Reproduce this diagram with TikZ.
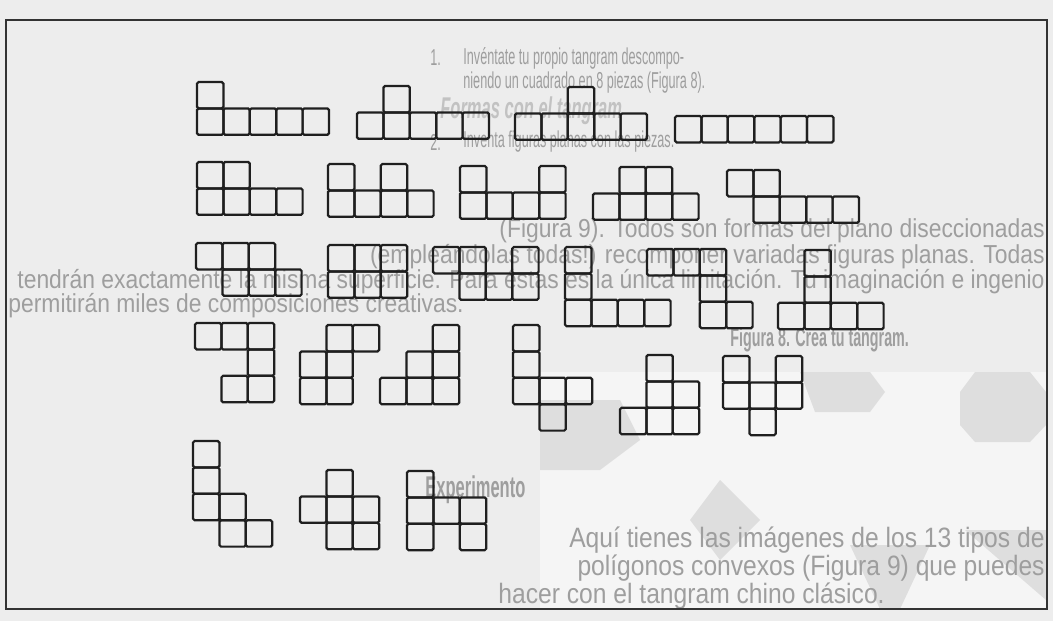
\documentclass[tikz,border=0pt]{standalone}
\usepackage{fontspec}
\newfontfamily\ghostfont[FakeStretch=0.88]{Liberation Sans}
\newfontfamily\narrowfont[FakeStretch=0.55]{Liberation Sans}
\usetikzlibrary{positioning}

% one cell of a hexomino, in pixels of the page
\def\cw{26.4}
\newcommand{\hexo}[3]{%
  \foreach \c/\r in {#3}{\draw[cell] ({#1+\c*\cw},{#2+\r*\cw}) rectangle ++(\cw,\cw);}}

\begin{document}
\begin{tikzpicture}[
    x=0.5pt, y=-0.5pt,
    cell/.style={draw=black!88, line width=1.1pt, rounded corners=0.8pt},
    ghost/.style={inner sep=0pt, text=black!38, font=\ghostfont\fontsize{13}{13}\selectfont},
    ghostcol/.style={ghost, font=\narrowfont\fontsize{11.5}{11.5}\selectfont},
    ghostbig/.style={ghost, font=\ghostfont\fontsize{14}{14}\selectfont},
    ghostbold/.style={ghost, font=\narrowfont\bfseries\fontsize{13}{13}\selectfont},
    blob/.style={fill=black!13, draw=none},
]
% page and frame
\fill[black!7] (0,0) rectangle (1053,621);
\useasboundingbox (0,0) rectangle (1053,621);

% faint page seen through the paper
\fill[black!4] (540,372) rectangle (1046,609);
\fill[blob] (800,372) -- (870,372) -- (885,392) -- (870,412) -- (815,412) -- cycle;
\fill[blob] (975,372) -- (1030,372) -- (1046,392) -- (1046,425) -- (1030,442) -- (975,442) -- (960,425) -- (960,392) -- cycle;
\fill[blob] (540,400) -- (620,400) -- (640,440) -- (600,470) -- (540,470) -- cycle;
\fill[blob] (850,545) -- (930,545) -- (900,609) -- (880,609) -- cycle;
\fill[blob] (965,530) -- (1046,530) -- (1046,600) -- cycle;
\fill[blob] (720,480) -- (760,520) -- (720,560) -- (690,520) -- cycle;

\node[ghostcol, anchor=west] (n1) at (430,58) {1.};
\node[ghostcol, anchor=west] (t1) at (463,58) {Invéntate tu propio tangram descompo-};
\node[ghostcol, anchor=west] (t2) at (463,83) {niendo un cuadrado en 8 piezas (Figura 8).};
\node[ghost, anchor=west, text=black!24, font=\narrowfont\bfseries\itshape\fontsize{15}{15}\selectfont] (tt) at (440,111) {Formas con el tangram};
\node[ghostcol, anchor=west] (n2) at (430,142) {2.};
\node[ghostcol, anchor=west] (t3) at (463,142) {Inventa figuras planas con las piezas.};
\node[ghost, anchor=east] (t4) at (1045,231) {(Figura 9). Todos son formas del plano diseccionadas};
\node[ghost, anchor=east] (t5) at (1045,257) {(empleándolas todas!) recomponer variadas figuras planas. Todas};
\node[ghost, anchor=east] (t6) at (1045,282) {tendrán exactamente la misma superficie. Para éstas es la única limitación. Tu imaginación e ingenio};
\node[ghost, anchor=west] (t7) at (8,306) {permitirán miles de composiciones creativas.};
\node[ghostbold, anchor=west] (f8) at (730,340) {Figura 8. Crea tu tangram.};
\node[ghostbold, anchor=west, font=\narrowfont\bfseries\fontsize{15}{15}\selectfont] (ex) at (425,490) {Experimento};
\node[ghostbig, anchor=east] (t8) at (1045,540) {Aquí tienes las imágenes de los 13 tipos de};
\node[ghostbig, anchor=east] (t9) at (1045,568) {polígonos convexos (Figura 9) que puedes};
\node[ghostbig, anchor=west] (t10) at (498,596) {hacer con el tangram chino clásico.};

\draw[black!80, line width=1pt] (6,20) rectangle (1047,609);

% first row
\hexo{197}{82}{0/0,0/1,1/1,2/1,3/1,4/1}
\hexo{357}{86}{1/0,0/1,1/1,2/1,3/1,4/1}
\hexo{515}{87}{2/0,0/1,1/1,2/1,3/1,4/1}
\hexo{675}{116}{0/0,1/0,2/0,3/0,4/0,5/0}
% second row
\hexo{197}{162}{0/0,1/0,0/1,1/1,2/1,3/1}
\hexo{328}{164}{0/0,2/0,0/1,1/1,2/1,3/1}
\hexo{460}{166}{0/0,3/0,0/1,1/1,2/1,3/1}
\hexo{593}{167}{1/0,2/0,0/1,1/1,2/1,3/1}
\hexo{727}{170}{0/0,1/0,1/1,2/1,3/1,4/1}
% third row
\hexo{196}{243}{0/0,1/0,2/0,1/1,2/1,3/1}
\hexo{328}{245}{0/0,1/0,2/0,0/1,1/1,2/1}
\hexo{433}{247}{0/0,1/0,3/0,1/1,2/1,3/1}
\hexo{565}{247}{0/0,0/1,0/2,1/2,2/2,3/2}
\hexo{647}{249}{0/0,1/0,2/0,2/1,2/2,3/2}
\hexo{778}{250}{1/0,1/1,0/2,1/2,2/2,3/2}
% fourth row
\hexo{195}{323}{0/0,1/0,2/0,2/1,1/2,2/2}
\hexo{300}{325}{1/0,2/0,0/1,1/1,0/2,1/2}
\hexo{380}{325}{2/0,1/1,2/1,0/2,1/2,2/2}
\hexo{513}{325}{0/0,0/1,0/2,1/2,2/2,1/3}
\hexo{620}{355}{1/0,1/1,2/1,0/2,1/2,2/2}
\hexo{723}{356}{0/0,2/0,0/1,1/1,2/1,1/2}
% fifth row
\hexo{193}{441}{0/0,0/1,0/2,1/2,1/3,2/3}
\hexo{300}{470}{1/0,0/1,1/1,2/1,1/2,2/2}
\hexo{407}{471}{0/0,0/1,1/1,2/1,0/2,2/2}

\end{tikzpicture}
\end{document}
